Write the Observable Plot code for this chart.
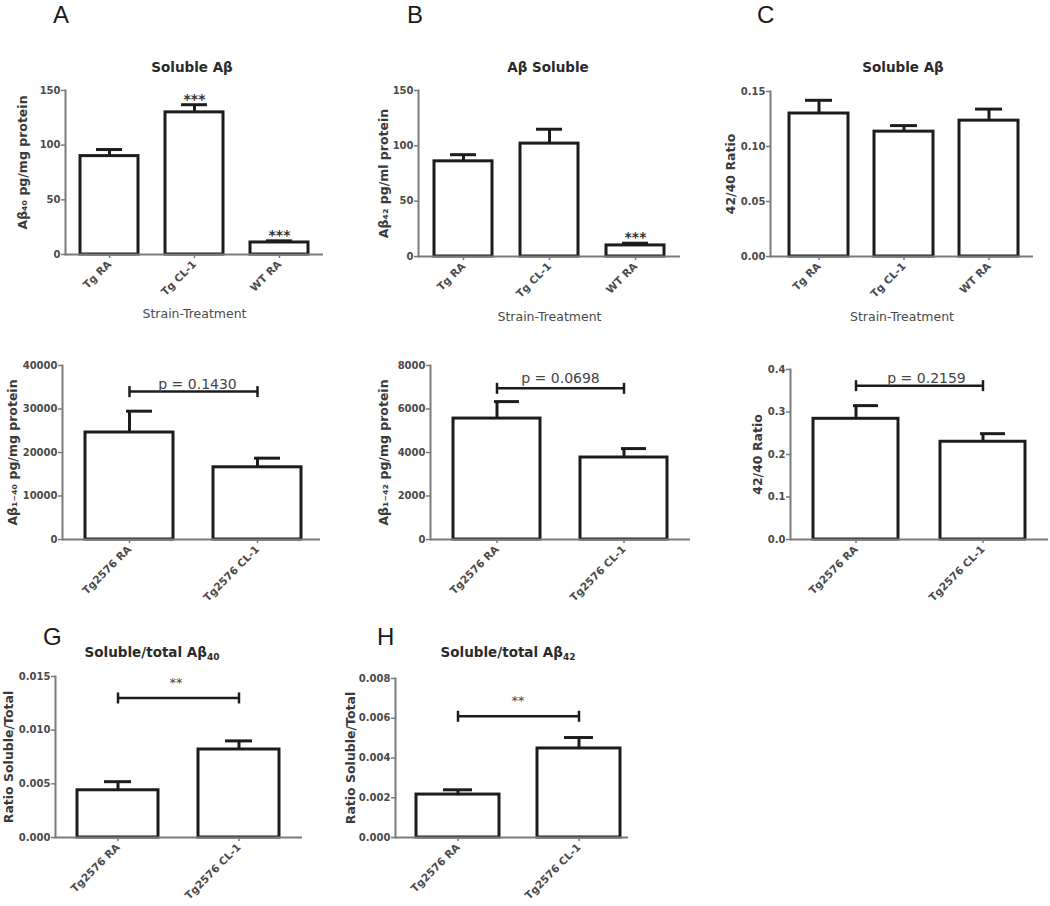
<!DOCTYPE html>
<html><head><meta charset="utf-8">
<script src="https://cdn.jsdelivr.net/npm/d3@7"></script>
<script src="https://cdn.jsdelivr.net/npm/@observablehq/plot@0.6"></script>
<style>
body{margin:0;background:#fff;}
#fig{position:relative;width:1050px;height:906px;overflow:hidden;font-family:"DejaVu Sans",sans-serif;background:#fff;}
.letter{position:absolute;font-family:"Liberation Sans",Arial,sans-serif;font-size:24px;color:#1a1a1a;line-height:normal;}
.title{position:absolute;font-family:"DejaVu Sans",sans-serif;font-weight:bold;font-size:13.5px;color:#2a2a2a;transform:translate(-50%,-50%);white-space:nowrap;}
.title sub{font-size:9px;}
.panel{position:absolute;}
</style></head><body><div id="fig"></div>
<script>
// ---------- data ----------
const catsTop = ["Tg RA", "Tg CL-1", "WT RA"];
const catsBottom = ["Tg2576 RA", "Tg2576 CL-1"];

const aMean = [90, 130, 11];
const aUpper = [96, 137, 12.5];
const aStars = ["", "***", "***"];
const aTicks = [0, 50, 100, 150];

const bMean = [86, 102, 10];
const bUpper = [92, 115, 12];
const bStars = ["", "", "***"];
const bTicks = [0, 50, 100, 150];

const cMean = [0.130, 0.1135, 0.1235];
const cUpper = [0.142, 0.119, 0.134];
const cTicks = [0, 0.05, 0.10, 0.15];

const dMean = [24600, 16600];
const dUpper = [29500, 18700];
const dTicks = [0, 10000, 20000, 30000, 40000];
const dBracket = 34000;
const dP = "p = 0.1430";

const eMean = [5560, 3770];
const eUpper = [6340, 4180];
const eTicks = [0, 2000, 4000, 6000, 8000];
const eBracket = 6950;
const eP = "p = 0.0698";

const fMean = [0.284, 0.230];
const fUpper = [0.315, 0.249];
const fTicks = [0, 0.1, 0.2, 0.3, 0.4];
const fBracket = 0.362;
const fP = "p = 0.2159";

const gMean = [0.0044, 0.0082];
const gUpper = [0.0052, 0.0090];
const gTicks = [0, 0.005, 0.010, 0.015];
const gBracket = 0.0130;
const gP = "**";

const hMean = [0.00216, 0.00448];
const hUpper = [0.0024, 0.00503];
const hTicks = [0, 0.002, 0.004, 0.006, 0.008];
const hBracket = 0.0061;
const hP = "**";

// ---------- layout (page pixels) ----------
const fig = document.getElementById("fig");
const M = {l: 70, r: 15, t: 40, b: 95};
const INK = "#1c1c1c", AXIS = "#7a7a7a", TXT = "#4a4a4a";

function endTick(color) {
  const ns = "http://www.w3.org/2000/svg";
  const m = document.createElementNS(ns, "marker");
  m.setAttribute("viewBox", "-3 -7 6 14");
  m.setAttribute("markerWidth", 6);
  m.setAttribute("markerHeight", 14);
  m.setAttribute("markerUnits", "userSpaceOnUse");
  m.setAttribute("orient", "auto");
  m.setAttribute("stroke", color);
  m.setAttribute("fill", "none");
  const p = document.createElementNS(ns, "path");
  p.setAttribute("d", "M0,-5.5V5.5");
  p.setAttribute("stroke-width", 2.5);
  m.appendChild(p);
  return m;
}

function panel(s, L) {
  const rows = s.cats.map((c, i) => ({cat: c, mean: s.mean[i], upper: s.upper[i], star: s.stars ? s.stars[i] : ""}));
  const width = L.x1 - L.x0 + M.l + M.r;
  const height = L.yZero - L.yTop + M.t + M.b;
  const marks = [
    Plot.barY(rows, {x: "cat", y: "mean", fill: "white", stroke: INK, strokeWidth: 3}),
    Plot.ruleX(rows, {x: "cat", y1: "mean", y2: "upper", stroke: INK, strokeWidth: 3}),
    Plot.tickY(rows, {x: "cat", y: "upper", stroke: INK, strokeWidth: 3, insetLeft: L.capL, insetRight: L.capR}),
    Plot.ruleY([0], {stroke: AXIS, strokeWidth: 2}),
    Plot.frame({anchor: "left", stroke: AXIS, strokeWidth: 2}),
    Plot.axisY({ticks: s.ticks, tickFormat: s.fmt, tickSize: 4, tickPadding: 1, stroke: AXIS, strokeWidth: 1.5,
      fontSize: 10, fontWeight: "bold", fill: TXT, label: null}),
    Plot.axisX({tickRotate: -45, tickSize: 4, tickPadding: 4, stroke: AXIS, strokeWidth: 1.5,
      fontSize: 10.5, fontWeight: "bold", fill: TXT, label: null}),
    Plot.text([s.ylabel], {text: d => d, frameAnchor: "left", textAnchor: "middle", lineAnchor: "middle",
      rotate: -90, dx: L.labelX - L.x0, dy: L.labelDy || 0,
      fontSize: 12.5, fontWeight: "bold", fill: "#3a3a3a"})
  ];
  if (s.xlabel) {
    marks.push(Plot.text([s.xlabel], {text: d => d, frameAnchor: "bottom", textAnchor: "middle", lineAnchor: "middle",
      dy: L.xTitleY - L.yZero, fontSize: 12.5, fill: TXT}));
  }
  if (s.stars) {
    marks.push(Plot.text(rows.filter(r => r.star), {x: "cat", y: "upper", text: "star", lineAnchor: "bottom",
      dy: -1, fontSize: 14, fontWeight: "bold", fill: "#333"}));
  }
  if (s.bracket != null) {
    marks.push(Plot.link([{a: s.cats[0], b: s.cats[1], v: s.bracket}], {x1: "a", x2: "b", y1: "v", y2: "v",
      stroke: INK, strokeWidth: 2.5, markerStart: endTick, markerEnd: endTick}));
    marks.push(Plot.text([s.pLabel], {text: d => d, y: [s.bracket], lineAnchor: "bottom", dx: L.pdx, dy: L.pdy,
      fontSize: L.pSize, fill: "#444"}));
  }
  const svg = Plot.plot({
    width, height,
    marginLeft: M.l, marginRight: M.r, marginTop: M.t, marginBottom: M.b,
    x: {domain: s.cats, paddingInner: L.pi, paddingOuter: L.po, align: L.align},
    y: {domain: [0, s.ticks[s.ticks.length - 1]]},
    style: {background: "transparent", overflow: "visible", fontFamily: "DejaVu Sans, sans-serif"},
    marks
  });
  svg.classList.add("panel");
  svg.style.left = (L.x0 - M.l) + "px";
  svg.style.top = (L.yTop - M.t) + "px";
  fig.appendChild(svg);
}

function addHTML(cls, html, x, y) {
  const d = document.createElement("div");
  d.className = cls;
  d.innerHTML = html;
  d.style.left = x + "px";
  d.style.top = y + "px";
  fig.appendChild(d);
}

const f0 = d3.format("d"), f2 = d3.format(".2f"), f1 = d3.format(".1f"), f3 = d3.format(".3f");

panel({cats: catsTop, mean: aMean, upper: aUpper, stars: aStars, ticks: aTicks, fmt: f0,
  ylabel: "Aβ₄₀ pg/mg protein", xlabel: "Strain-Treatment"},
  {x0: 65, x1: 323, yTop: 90, yZero: 254, pi: 0.32, po: 0.17, align: 0.5, capL: 16, capR: 16, labelX: 22, labelDy: -10, xTitleY: 313});
panel({cats: catsTop, mean: bMean, upper: bUpper, stars: bStars, ticks: bTicks, fmt: f0,
  ylabel: "Aβ₄₂ pg/ml protein", xlabel: "Strain-Treatment"},
  {x0: 418, x1: 680, yTop: 90, yZero: 256, pi: 0.32, po: 0.166, align: 0.5, capL: 16, capR: 16, labelX: 383, xTitleY: 316});
panel({cats: catsTop, mean: cMean, upper: cUpper, ticks: cTicks, fmt: f2,
  ylabel: "42/40 Ratio", xlabel: "Strain-Treatment"},
  {x0: 770, x1: 1033, yTop: 91, yZero: 256, pi: 0.30, po: 0.18, align: 0.58, capL: 16, capR: 16, labelX: 730, xTitleY: 316});

panel({cats: catsBottom, mean: dMean, upper: dUpper, ticks: dTicks, fmt: f0,
  ylabel: "Aβ₁₋₄₀ pg/mg protein", bracket: dBracket, pLabel: dP},
  {x0: 62, x1: 320, yTop: 365, yZero: 539, pi: 0.31, po: 0.16, align: 0.56, capL: 41, capR: 21, labelX: 12, pdx: 6, pdy: -3, pSize: 14});
panel({cats: catsBottom, mean: eMean, upper: eUpper, ticks: eTicks, fmt: f0,
  ylabel: "Aβ₁₋₄₂ pg/mg protein", bracket: eBracket, pLabel: eP},
  {x0: 430, x1: 690, yTop: 365, yZero: 539, pi: 0.314, po: 0.177, align: 0.5, capL: 41, capR: 21, labelX: 383, pdx: 0, pdy: -5, pSize: 14});
panel({cats: catsBottom, mean: fMean, upper: fUpper, ticks: fTicks, fmt: f1,
  ylabel: "42/40 Ratio", bracket: fBracket, pLabel: fP},
  {x0: 790, x1: 1048, yTop: 369, yZero: 539, pi: 0.33, po: 0.173, align: 0.5, capL: 40, capR: 20, labelX: 757, pdx: 7, pdy: -3, pSize: 14});

panel({cats: catsBottom, mean: gMean, upper: gUpper, ticks: gTicks, fmt: f3,
  ylabel: "Ratio Soluble/Total", bracket: gBracket, pLabel: gP},
  {x0: 55, x1: 302, yTop: 676, yZero: 837, pi: 0.33, po: 0.18, align: 0.5, capL: 27, capR: 27, labelX: 8, pdx: -3, pdy: -11, pSize: 13});
panel({cats: catsBottom, mean: hMean, upper: hUpper, ticks: hTicks, fmt: f3,
  ylabel: "Ratio Soluble/Total", bracket: hBracket, pLabel: hP},
  {x0: 395, x1: 628, yTop: 678, yZero: 837, pi: 0.31, po: 0.11, align: 0.74, capL: 27, capR: 27, labelX: 350, pdx: 6, pdy: -11, pSize: 13});

// panel letters and titles
addHTML("letter", "A", 53, 0.5);
addHTML("letter", "B", 407, 0.5);
addHTML("letter", "C", 757, 0.5);
addHTML("letter", "G", 43, 623);
addHTML("letter", "H", 377, 623);
addHTML("title", "Soluble Aβ", 192, 67);
addHTML("title", "Aβ Soluble", 548, 67);
addHTML("title", "Soluble Aβ", 903, 67);
addHTML("title", "Soluble/total Aβ<sub>40</sub>", 152, 653);
addHTML("title", "Soluble/total Aβ<sub>42</sub>", 508, 653);
</script>
</body></html>
